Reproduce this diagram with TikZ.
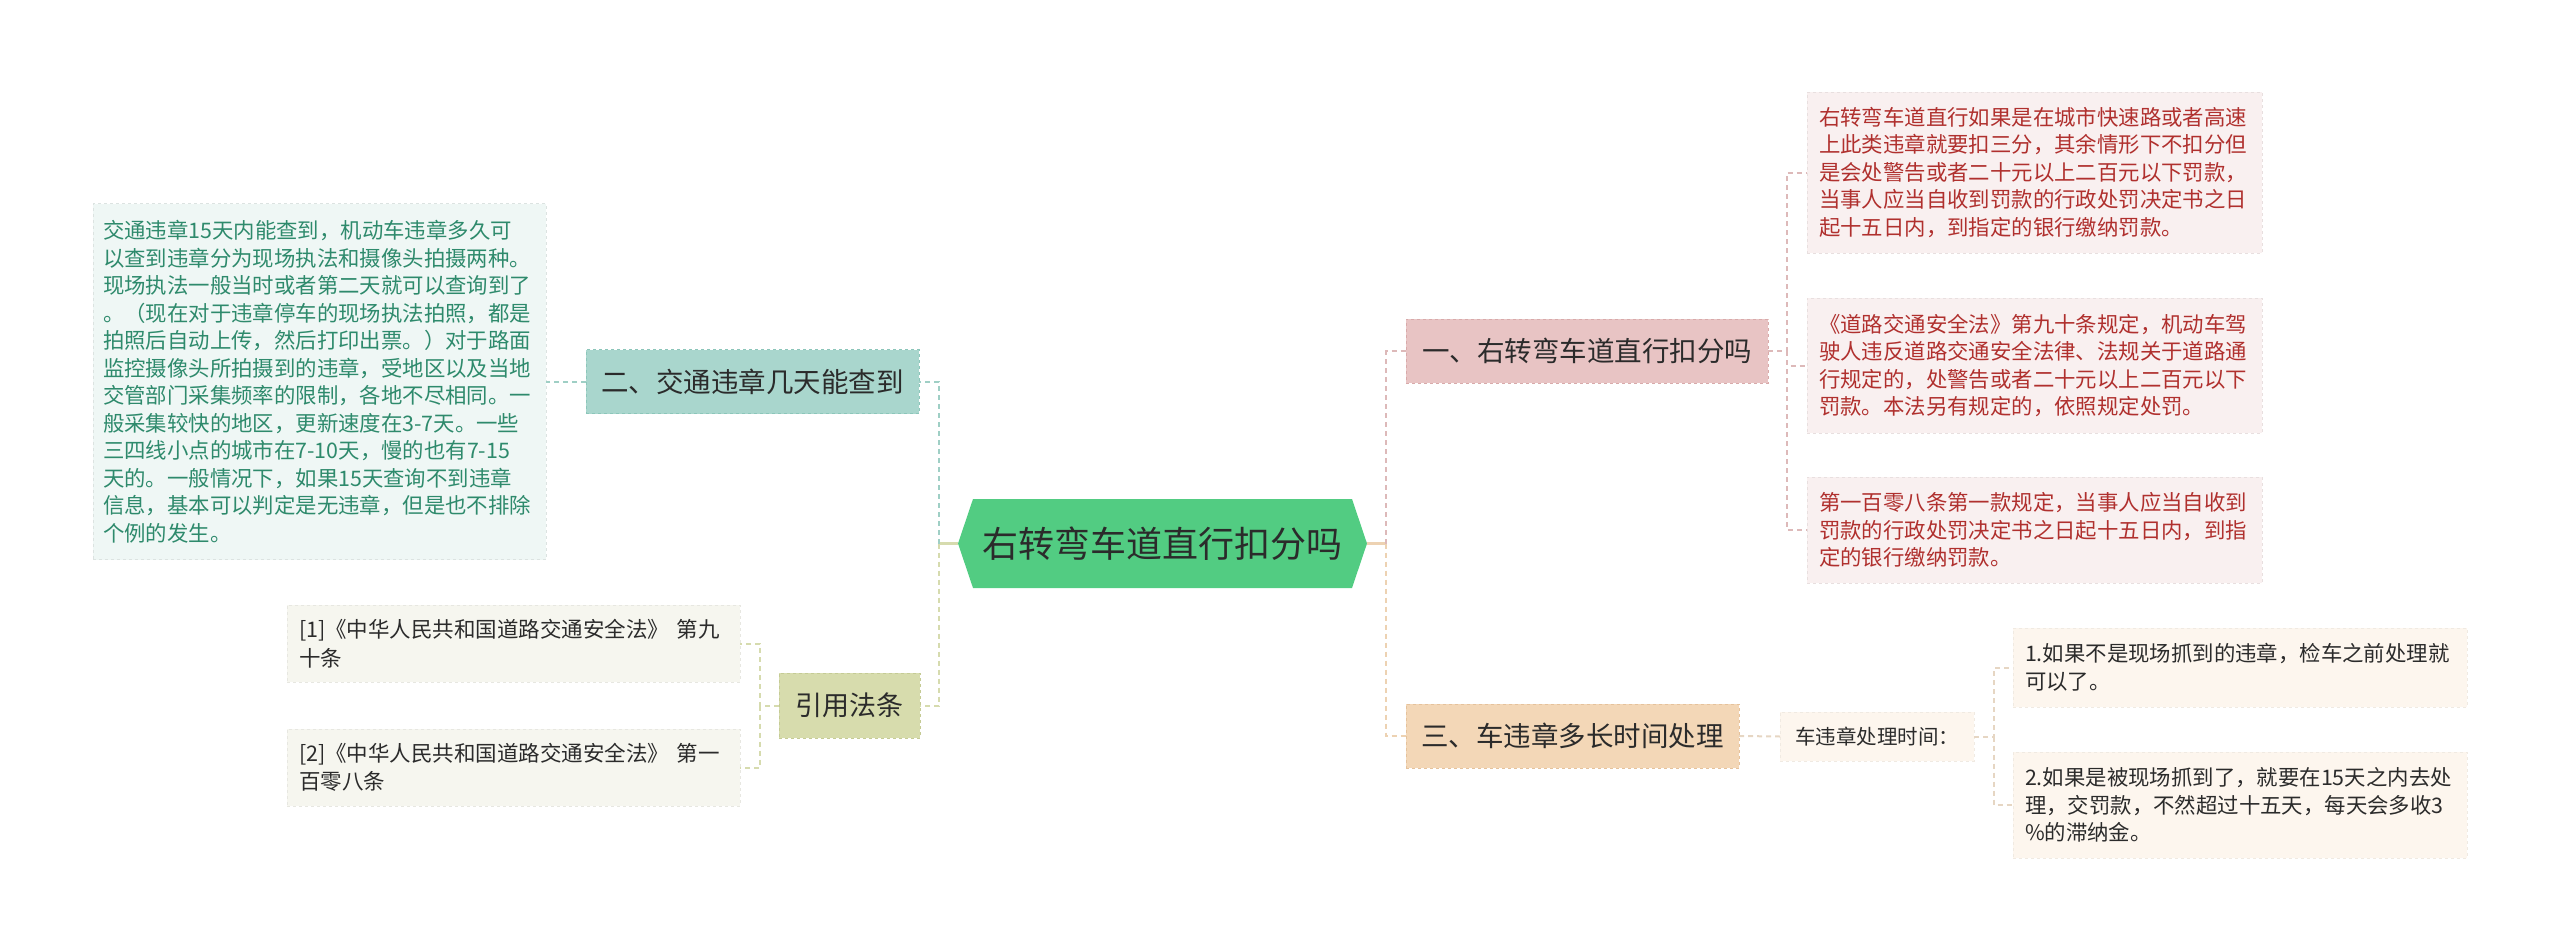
\documentclass[tikz,border=0pt]{standalone}
\usepackage{fontspec}
\setmainfont{Noto Sans CJK SC}
\usetikzlibrary{backgrounds}

\definecolor{ink}{HTML}{2B2B2B}
\definecolor{rootgreen}{HTML}{52CC82}
\definecolor{tealbg}{HTML}{A9D6CD}
\definecolor{tealbd}{HTML}{8CC6BA}
\definecolor{tealnote}{HTML}{EFF7F5}
\definecolor{tealtext}{HTML}{2E8A6C}
\definecolor{tealline}{HTML}{9FCFC5}
\definecolor{olivebg}{HTML}{D7DCAD}
\definecolor{olivebd}{HTML}{C5CB95}
\definecolor{olivenote}{HTML}{F6F6EF}
\definecolor{oliveline}{HTML}{D6DBAE}
\definecolor{pinkbg}{HTML}{E8C4C4}
\definecolor{pinkbd}{HTML}{D8AAAA}
\definecolor{pinknote}{HTML}{F9F0F0}
\definecolor{pinktext}{HTML}{B0302E}
\definecolor{pinkline}{HTML}{DDB9B9}
\definecolor{orangebg}{HTML}{F3D7B7}
\definecolor{orangebd}{HTML}{E5C29C}
\definecolor{orangenote}{HTML}{FDF6EE}
\definecolor{orangeline}{HTML}{EDD2B2}
\definecolor{beigeline}{HTML}{E6D6C3}

\begin{document}
\begin{tikzpicture}[
  x=1pt, y=-1pt,
  every node/.style={inner sep=0pt, outer sep=0pt},
  topic/.style={draw, dashed, line width=1pt, minimum height=64pt, text=ink},
  note/.style={align=left, inner xsep=12pt, dashed, line width=0.8pt,
    font=\fontsize{21.4}{27.5}\selectfont},
  link/.style={dash pattern=on 5pt off 4pt, line width=2pt},
  stub/.style={line width=2.5pt}
]
\useasboundingbox (0,0) rectangle (2560,950);

% centre
\node[font=\fontsize{36}{40}\selectfont, text=ink, minimum width=379pt,
  minimum height=89pt] (root) at (1162.5,543.5) {右转弯车道直行扣分吗};
\begin{scope}[on background layer]
  \fill[rootgreen] (root.north west) -- (root.north east) -- ([xshift=15pt]root.east)
    -- (root.south east) -- (root.south west) -- ([xshift=-15pt]root.west) -- cycle;
\end{scope}
\coordinate (rootL) at ([xshift=-15pt]root.west);
\coordinate (rootR) at ([xshift=15pt]root.east);

% left side
\node[topic, fill=tealbg, draw=tealbd, minimum width=333pt,
  font=\fontsize{27.5}{32}\selectfont] (b2) at (752.5,381.5) {二、交通违章几天能查到};
\node[note, fill=tealnote, draw=tealnote!92!black, text=tealtext, text width=433pt,
  inner xsep=10pt, minimum height=356pt] (t2) at (319.5,381.5)
  {交通违章15天内能查到，机动车违章多久可\\
   以查到违章分为现场执法和摄像头拍摄两种。\\
   现场执法一般当时或者第二天就可以查询到了\\
   。（现在对于违章停车的现场执法拍照，都是\\
   拍照后自动上传，然后打印出票。）对于路面\\
   监控摄像头所拍摄到的违章，受地区以及当地\\
   交管部门采集频率的限制，各地不尽相同。一\\
   般采集较快的地区，更新速度在3-7天。一些\\
   三四线小点的城市在7-10天，慢的也有7-15\\
   天的。一般情况下，如果15天查询不到违章\\
   信息，基本可以判定是无违章，但是也不排除\\
   个例的发生。};

\node[topic, fill=olivebg, draw=olivebd, minimum width=141pt, minimum height=65pt,
  font=\fontsize{27}{32}\selectfont] (cite) at (849.5,705.5) {引用法条};
\node[note, fill=olivenote, draw=olivenote!94!black, text=ink, text width=429pt,
  minimum height=77pt, font=\fontsize{21.5}{28.5}\selectfont]
  (ref1) at (513.5,643.5) {[1]《中华人民共和国道路交通安全法》 第九\\十条};
\node[note, fill=olivenote, draw=olivenote!94!black, text=ink, text width=429pt,
  minimum height=77pt, font=\fontsize{21.5}{28.5}\selectfont]
  (ref2) at (513.5,767.5) {[2]《中华人民共和国道路交通安全法》 第一\\百零八条};

% right side
\node[topic, fill=pinkbg, draw=pinkbd, minimum width=362pt,
  font=\fontsize{27.5}{32}\selectfont] (b1) at (1587,351) {一、右转弯车道直行扣分吗};
\node[note, fill=pinknote, draw=pinknote!93!black, text=pinktext, text width=431pt,
  minimum height=161pt] (p1) at (2034.5,172.5)
  {右转弯车道直行如果是在城市快速路或者高速\\
   上此类违章就要扣三分，其余情形下不扣分但\\
   是会处警告或者二十元以上二百元以下罚款，\\
   当事人应当自收到罚款的行政处罚决定书之日\\
   起十五日内，到指定的银行缴纳罚款。};
\node[note, fill=pinknote, draw=pinknote!93!black, text=pinktext, text width=431pt,
  minimum height=135pt] (p2) at (2034.5,365.5)
  {《道路交通安全法》第九十条规定，机动车驾\\
   驶人违反道路交通安全法律、法规关于道路通\\
   行规定的，处警告或者二十元以上二百元以下\\
   罚款。本法另有规定的，依照规定处罚。};
\node[note, fill=pinknote, draw=pinknote!93!black, text=pinktext, text width=431pt,
  minimum height=106pt] (p3) at (2034.5,530)
  {第一百零八条第一款规定，当事人应当自收到\\
   罚款的行政处罚决定书之日起十五日内，到指\\
   定的银行缴纳罚款。};

\node[topic, fill=orangebg, draw=orangebd, minimum width=333pt,
  font=\fontsize{27.5}{32}\selectfont] (b3) at (1572.5,736) {三、车违章多长时间处理};
\node[note, fill=orangenote, draw=orangenote!95!black, text=ink, align=center,
  text width=170pt, minimum height=49pt, font=\fontsize{20.5}{24}\selectfont]
  (q) at (1877,736.5) {车违章处理时间：};
\node[note, fill=orangenote, draw=orangenote!95!black, text=ink, text width=430pt,
  minimum height=79pt] (s1) at (2240,667.5)
  {1.如果不是现场抓到的违章，检车之前处理就\\
   可以了。};
\node[note, fill=orangenote, draw=orangenote!95!black, text=ink, text width=430pt,
  minimum height=106pt] (s2) at (2240,805)
  {2.如果是被现场抓到了，就要在15天之内去处\\
   理，交罚款，不然超过十五天，每天会多收3\\
   \%的滞纳金。};

% junctions
\coordinate (jL) at (939,543.5);
\coordinate (jR) at (1386,543.5);
\coordinate (jC) at (760,705.5);
\coordinate (jP) at (1787,351);
\coordinate (jS) at (1994,736.5);

% connectors
\draw[stub, oliveline] (rootL) -- (jL);
\draw[link, tealline] (jL) |- (b2.east);
\draw[link, oliveline] (jL) |- (cite.east);
\draw[link, tealline] (b2.west) -- (t2.east);
\draw[link, oliveline] (cite.west) -- (jC) |- (ref1.east);
\draw[link, oliveline] (jC) |- (ref2.east);

\draw[stub, orangeline] (rootR) -- (jR);
\draw[link, pinkline] (jR) |- (b1.west);
\draw[link, orangeline] (jR) |- (b3.west);
\draw[link, pinkline] (b1.east) -- (jP) |- (p1.west);
\draw[link, pinkline] (jP) |- (p2.west);
\draw[link, pinkline] (jP) |- (p3.west);
\draw[link, beigeline] (b3.east) -- (q.west);
\draw[link, beigeline] (q.east) -- (jS) |- (s1.west);
\draw[link, beigeline] (jS) |- (s2.west);
\end{tikzpicture}
\end{document}
